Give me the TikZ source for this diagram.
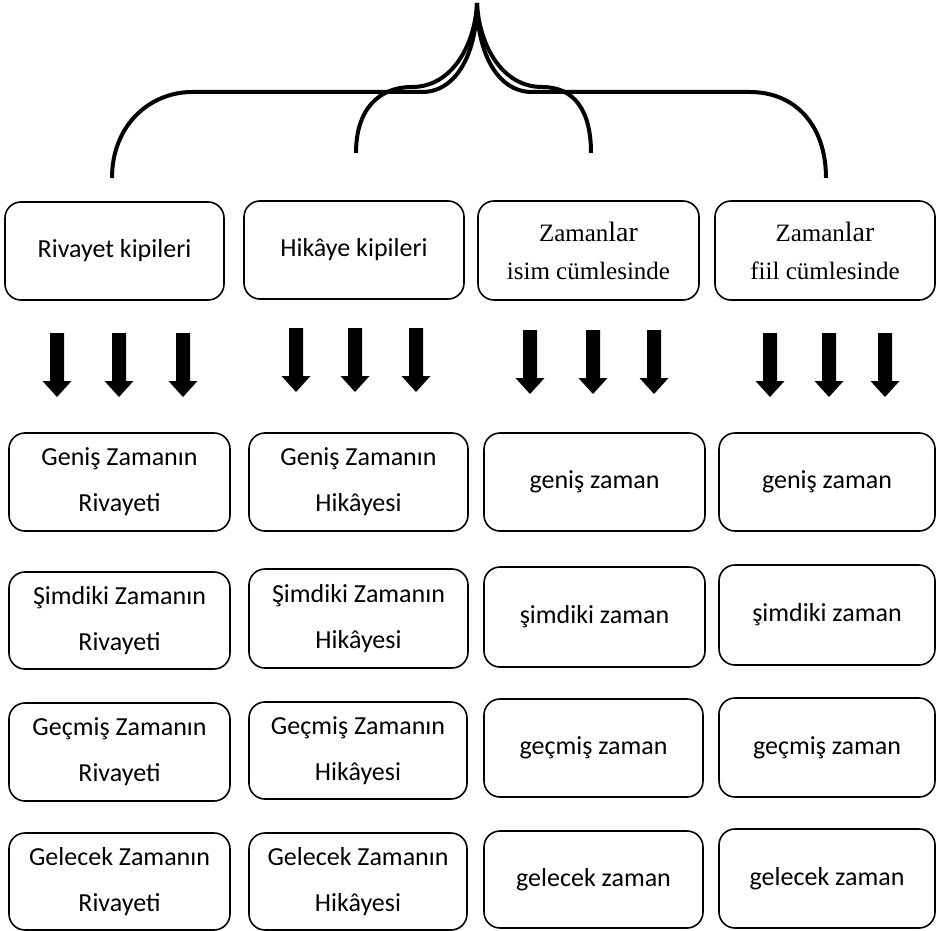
\documentclass[tikz,border=0pt]{standalone}
\usepackage{fontspec}
\setmainfont{Carlito}
\newfontfamily\seriffam{Liberation Serif}
\begin{document}
\begin{tikzpicture}[x=1pt,y=-1pt,
  box/.style={draw,line width=1.6pt,rounded corners=16pt,inner sep=0pt,outer sep=0pt,align=center,
    font=\fontsize{26}{46}\selectfont},
  sbox/.style={box,font=\seriffam\fontsize{25}{38}\selectfont},
  brace/.style={draw,line width=4pt,line cap=butt},
  darrow/.pic={\fill (-7,0) -- (7,0) -- (7,48) -- (14.5,48) -- (0,64) -- (-14.5,48) -- (-7,48) -- cycle;}]
\useasboundingbox (0,0) rectangle (937,931);
% brace
\coordinate (tip) at (477,3);
\coordinate (oL) at (112,178);
\coordinate (oR) at (826,178);
\coordinate (iL) at (356,153);
\coordinate (iR) at (591,153);
\draw[brace] (oL) .. controls (112,125) and (150,92) .. (192,92) -- (422,92)
  .. controls (458,92) and (477,50) .. (tip);
\draw[brace] (tip) .. controls (477,50) and (496,92) .. (532,92) -- (750,92)
  .. controls (795,92) and (826,125) .. (oR);
\draw[brace] (iL) .. controls (356,110) and (378,87) .. (412,87)
  .. controls (452,87) and (475,45) .. (tip);
\draw[brace] (tip) .. controls (479,45) and (502,87) .. (542,87)
  .. controls (574,87) and (591,110) .. (iR);
% top row
\node[box,minimum width=219pt,minimum height=98pt] (t1) at (114.5,251) {Rivayet kipileri};
\node[box,minimum width=220pt,minimum height=98pt] (t2) at (354,250) {Hikâye kipileri};
\node[sbox,minimum width=221pt,minimum height=99pt] (t3) at (588.5,250.5) {Zaman{\fontsize{28}{38}\selectfont lar}\\isim cümlesinde};
\node[sbox,minimum width=220pt,minimum height=99pt] (t4) at (825,250.5) {Zaman{\fontsize{28}{38}\selectfont lar}\\fiil cümlesinde};
% arrows
\foreach \x in {57,119,183} \pic at (\x,333) {darrow};
\foreach \x in {296,355,416} \pic at (\x,328) {darrow};
\foreach \x in {530,593,654} \pic at (\x,330) {darrow};
\foreach \x in {770,829,885} \pic at (\x,333) {darrow};
% column 1
\node[box,minimum width=221pt,minimum height=98pt] (a1) at (119.5,482) {Geniş Zamanın\\Rivayeti};
\node[box,minimum width=221pt,minimum height=97pt] (a2) at (119.5,620.5) {Şimdiki Zamanın\\Rivayeti};
\node[box,minimum width=221pt,minimum height=98pt] (a3) at (119.5,752) {Geçmiş Zamanın\\Rivayeti};
\node[box,minimum width=221pt,minimum height=97pt] (a4) at (119.5,881.5) {Gelecek Zamanın\\Rivayeti};
% column 2
\node[box,minimum width=219pt,minimum height=98pt] (b1) at (358.5,482) {Geniş Zamanın\\Hikâyesi};
\node[box,minimum width=219pt,minimum height=99pt] (b2) at (358.5,618.5) {Şimdiki Zamanın\\Hikâyesi};
\node[box,minimum width=218pt,minimum height=97pt] (b3) at (358,750.5) {Geçmiş Zamanın\\Hikâyesi};
\node[box,minimum width=218pt,minimum height=97pt] (b4) at (358,881.5) {Gelecek Zamanın\\Hikâyesi};
% column 3
\node[box,minimum width=221pt,minimum height=98pt] (c1) at (594.5,482) {geniş zaman};
\node[box,minimum width=221pt,minimum height=100pt] (c2) at (594.5,617) {şimdiki zaman};
\node[box,minimum width=219pt,minimum height=98pt] (c3) at (593.5,748) {geçmiş zaman};
\node[box,minimum width=219pt,minimum height=97pt] (c4) at (593.5,879.5) {gelecek zaman};
% column 4
\node[box,minimum width=216pt,minimum height=98pt] (d1) at (827,482) {geniş zaman};
\node[box,minimum width=216pt,minimum height=100pt] (d2) at (827,615) {şimdiki zaman};
\node[box,minimum width=216pt,minimum height=99pt] (d3) at (827,747.5) {geçmiş zaman};
\node[box,minimum width=216pt,minimum height=99pt] (d4) at (827,878.5) {gelecek zaman};
\end{tikzpicture}
\end{document}
